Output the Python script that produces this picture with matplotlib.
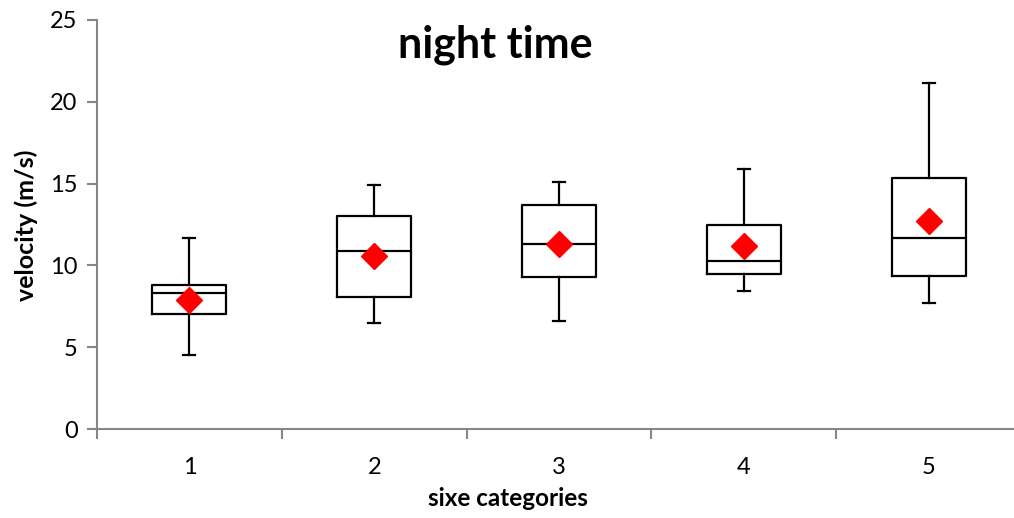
import matplotlib
matplotlib.use("Agg")
import matplotlib.pyplot as plt

# 5-number summaries + mean
categories = ["1", "2", "3", "4", "5"]
whisker_low = [4.5, 6.5, 6.6, 8.45, 7.7]
q1 = [7.0, 8.06, 9.29, 9.5, 9.35]
median = [8.33, 10.86, 11.29, 10.25, 11.67]
q3 = [8.78, 13.05, 13.72, 12.5, 15.35]
whisker_high = [11.65, 14.94, 15.12, 15.9, 21.13]
means = [7.88, 10.55, 11.33, 11.18, 12.7]

plt.rcParams["font.family"] = ["Lato", "DejaVu Sans"]

fig = plt.figure(figsize=(10.14, 5.18), dpi=100)
# axes run slightly past the right edge, as in the original crop
ax = fig.add_axes([97 / 1014, 1 - 429 / 518, (1021 - 97) / 1014, (429 - 20) / 518])

stats = []
for i, lab in enumerate(categories):
    stats.append({
        "label": lab,
        "whislo": whisker_low[i],
        "q1": q1[i],
        "med": median[i],
        "q3": q3[i],
        "whishi": whisker_high[i],
        "mean": means[i],
    })

positions = list(range(1, len(categories) + 1))
ax.bxp(
    stats,
    positions=positions,
    widths=0.4,
    showfliers=False,
    showmeans=False,
    boxprops=dict(color="black", linewidth=1.6),
    medianprops=dict(color="black", linewidth=1.6),
    whiskerprops=dict(color="black", linewidth=1.6),
    capprops=dict(color="black", linewidth=1.6),
    capwidths=0.065,
)
ax.plot(positions, means, linestyle="none", marker="D", color="red",
        markersize=13, zorder=5)

ax.set_xlim(0.5, 5.5)
ax.set_ylim(0, 25)
ax.set_yticks([0, 5, 10, 15, 20, 25])
ax.set_xticks(positions)
ax.set_xticklabels(categories)
ax.set_xticks([p + 0.5 for p in [0] + positions[:-1]], minor=True)
ax.tick_params(axis="x", which="major", length=0, pad=20, labelsize=17)
ax.tick_params(axis="x", which="minor", length=7, width=1.5, color="#868686", direction="out")
ax.tick_params(axis="y", length=7, width=1.5, color="#868686", labelsize=17, pad=7)

for side in ["top", "right"]:
    ax.spines[side].set_visible(False)
for side in ["left", "bottom"]:
    ax.spines[side].set_color("#868686")
    ax.spines[side].set_linewidth(1.5)

fig.text(495 / 1014, 1 - 45 / 518, "night time",
         ha="center", va="center", fontsize=31, fontweight="bold")
fig.text(26 / 1014, 1 - 225 / 518, "velocity (m/s)", rotation=90,
         ha="center", va="center", fontsize=18, fontweight="bold")
fig.text(508 / 1014, 1 - 499 / 518, "sixe categories",
         ha="center", va="center", fontsize=17.5, fontweight="bold")

fig.savefig("out.png", dpi=100)
